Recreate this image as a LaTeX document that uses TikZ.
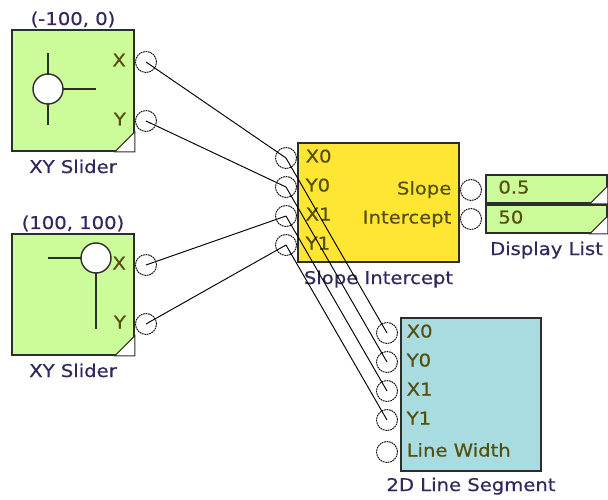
\documentclass[tikz,border=0pt]{standalone}
\usepackage{fontspec}
\setmainfont{DejaVu Sans}[FakeStretch=1.12, FakeBold=0.6]
\usetikzlibrary{positioning}
\usepackage{xcolor}
\definecolor{slidercolor}{RGB}{204,252,153}
\definecolor{slopecolor}{RGB}{255,230,51}
\definecolor{segmentcolor}{RGB}{168,220,224}
\definecolor{edgecolor}{RGB}{45,45,45}
\definecolor{titlecolor}{RGB}{50,40,95}
\definecolor{labelcolor}{RGB}{85,80,15}
\newcommand{\diafont}{\fontsize{17.5}{20}\selectfont}

\begin{document}
\begin{tikzpicture}[
    x=1pt, y=-1pt,
    % Block styles
    block/.style={rectangle, draw=edgecolor, line width=1.6pt, inner sep=0pt},
    slider/.style={block, fill=slidercolor, minimum width=122pt, minimum height=121pt},
    slopebox/.style={block, fill=slopecolor, minimum width=161pt, minimum height=119pt},
    segbox/.style={block, fill=segmentcolor, minimum width=140pt, minimum height=153pt},
    display/.style={block, fill=slidercolor, minimum width=121pt, minimum height=28pt},
    knobhead/.style={circle, draw=edgecolor, fill=white, line width=1.4pt, minimum size=30pt, inner sep=0pt},
    port/.style={circle, draw=black, line width=0.9pt, dash pattern=on 1.8pt off 0.7pt, minimum size=21pt, inner sep=0pt},
    % Text styles
    title/.style={font=\diafont, text=titlecolor, inner sep=0pt, text height=12pt, text depth=3pt},
    plabel/.style={font=\diafont, text=labelcolor, inner sep=0pt, text height=12pt, text depth=3pt},
    % Line styles
    knob/.style={draw=edgecolor, line width=1.6pt},
    corner/.style={fill=white, draw=edgecolor, line width=1pt},
    wire/.style={draw=black, line width=0.95pt},
]
\useasboundingbox (0,0) rectangle (608,500);

% Slider blocks
\node (sliderA) [slider] at (73,90.5) {};
\node (sliderB) [slider] at (73,294.5) {};
\node[title, above=1pt of sliderA] (valA) {(-100, 0)};
\node[title, above=1pt of sliderB] (valB) {(100, 100)};
\node[title, below=9pt of sliderA] (nameA) {XY Slider};
\node[title, below=9pt of sliderB] (nameB) {XY Slider};

% Slope intercept, display list, line segment
\node (slope) [slopebox] at (378.5,202.5) {};
\node (dispA) [display] at (546.5,189) {};
\node (dispB) [display] at (546.5,219) {};
\node (segment) [segbox] at (471,394.5) {};
\node[title, below=9pt of slope] (nameSlope) {Slope Intercept};
\node[title, below=9pt of dispB] (nameDisp) {Display List};
\node[title, below=7pt of segment] (nameSeg) {2D Line Segment};

% Corner marks
\foreach \b/\s in {sliderA/20, sliderB/20, dispA/18, dispB/18}
    \filldraw[corner] (\b.south east) -- ++(-\s,0) -- ++(\s,-\s) -- cycle;

% Slider knobs
\draw[knob] (48,53) -- (48,125);
\draw[knob] (48,89) -- (96,89);
\node (knobA) [knobhead] at (48,89) {};
\draw[knob] (48,258) -- (96,258) -- (96,329);
\node (knobB) [knobhead] at (96,258) {};

% Ports
\node (aX) [port] at (146,62) {};
\node (aY) [port] at (146,121) {};
\node (bX) [port] at (146,265) {};
\node (bY) [port] at (146,324) {};
\node (iXa) [port] at (286,158) {};
\node (iYa) [port] at (286,187) {};
\node (iXb) [port] at (286,216) {};
\node (iYb) [port] at (286,245) {};
\node (oSlope) [port] at (471,190) {};
\node (oInt) [port] at (471,219) {};
\node (sXa) [port] at (387,333) {};
\node (sYa) [port] at (387,362) {};
\node (sXb) [port] at (387,391) {};
\node (sYb) [port] at (387,420) {};
\node (sW) [port] at (387,452) {};

% Port labels
\node[plabel, left=9pt of aX] (lAX) {X};
\node[plabel, left=9pt of aY] (lAY) {Y};
\node[plabel, left=9pt of bX] (lBX) {X};
\node[plabel, left=9pt of bY] (lBY) {Y};
\node[plabel, right=8.5pt of iXa] (lIXa) {X0};
\node[plabel, right=8.5pt of iYa] (lIYa) {Y0};
\node[plabel, right=8.5pt of iXb] (lIXb) {X1};
\node[plabel, right=8.5pt of iYb] (lIYb) {Y1};
\node[plabel, left=8.5pt of oSlope] (lSlope) {Slope};
\node[plabel, left=8.5pt of oInt] (lInt) {Intercept};
\node[plabel, right=8.5pt of sXa] (lSXa) {X0};
\node[plabel, right=8.5pt of sYa] (lSYa) {Y0};
\node[plabel, right=8.5pt of sXb] (lSXb) {X1};
\node[plabel, right=8.5pt of sYb] (lSYb) {Y1};
\node[plabel, right=8.5pt of sW] (lSW) {Line Width};
\node[plabel, right=13pt of dispA.west] (vSlope) {0.5};
\node[plabel, right=13pt of dispB.west] (vInt) {50};

% Wires
\draw[wire] (aX.center) -- (iXa.center);
\draw[wire] (aY.center) -- (iYa.center);
\draw[wire] (bX.center) -- (iXb.center);
\draw[wire] (bY.center) -- (iYb.center);
\foreach \i/\s in {iXa/sXa, iYa/sYa, iXb/sXb, iYb/sYb}
    \draw[wire] (\i.center) -- (\s.center);

\end{tikzpicture}
\end{document}
